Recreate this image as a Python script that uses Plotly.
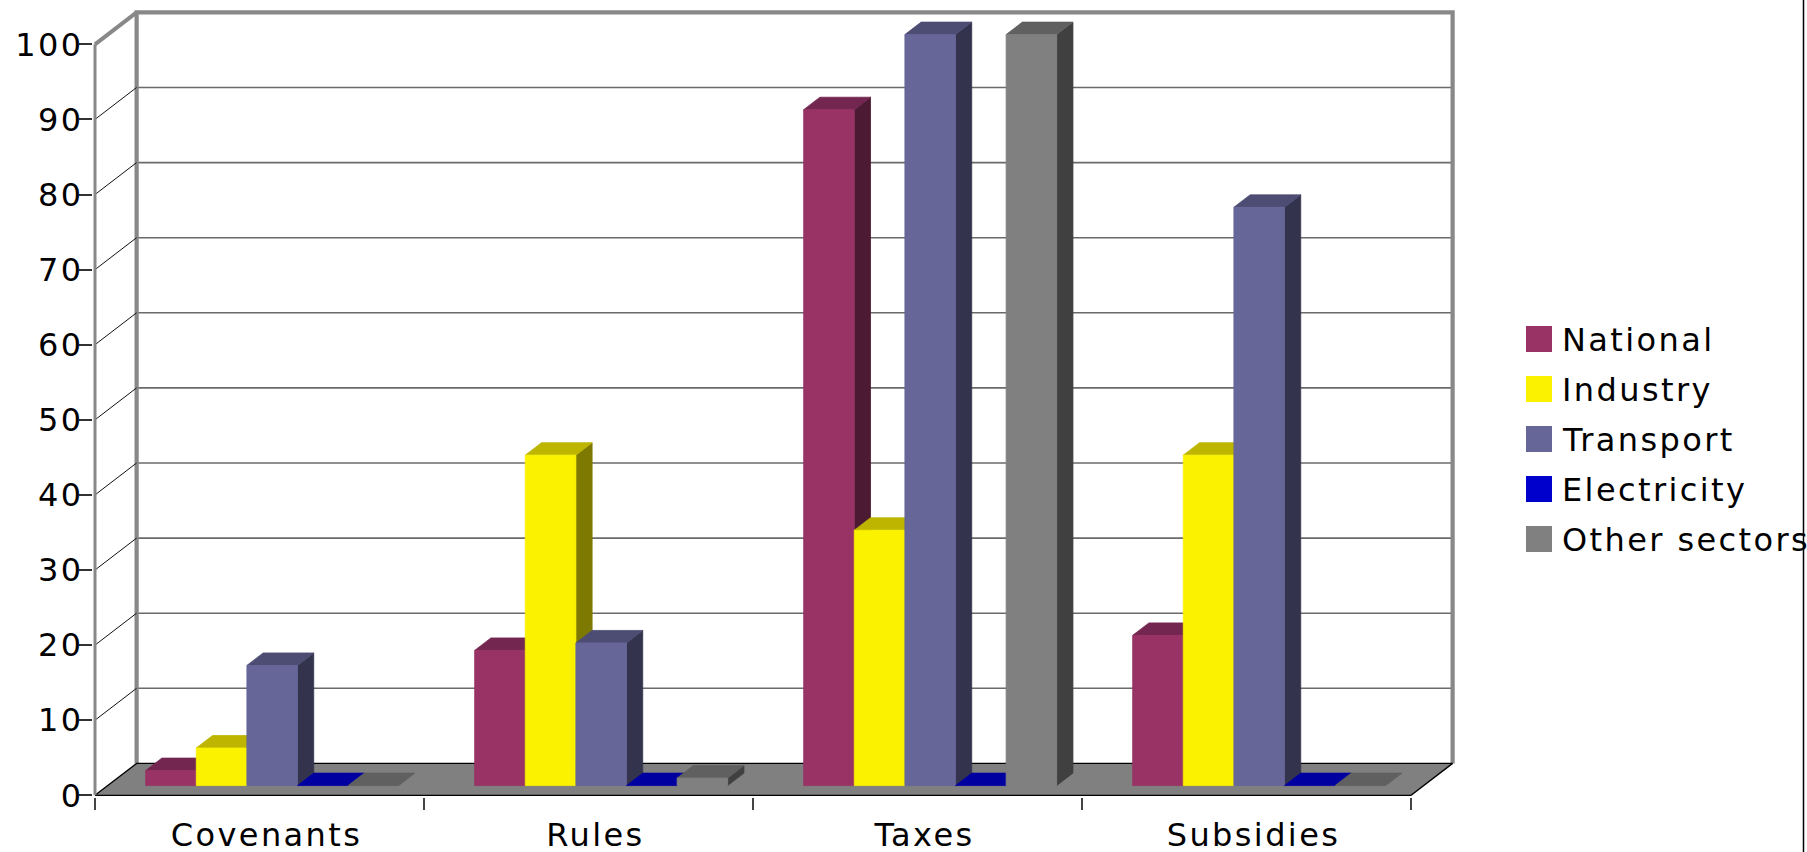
import plotly.graph_objects as go

# ---- data -------------------------------------------------------------
categories = ["Covenants", "Rules", "Taxes", "Subsidies"]
series_names = ["National", "Industry", "Transport", "Electricity", "Other sectors"]

national = [2, 18, 90, 20]
industry = [5, 44, 34, 44]
transport = [16, 19, 100, 77]
electricity = [0, 0, 0, 0]
other_sectors = [0, 1, 100, 0]

y_ticks = [0, 10, 20, 30, 40, 50, 60, 70, 80, 90, 100]

# ---- styling ----------------------------------------------------------
front_colors = ["#993366", "#FBF200", "#666699", "#0000CC", "#808080"]
top_colors = ["#732650", "#BDB500", "#4D4D73", "#0000A0", "#606060"]
side_colors = ["#4D1A33", "#7E7900", "#33334D", "#000066", "#404040"]
FONT = "DejaVu Sans, Verdana, sans-serif"

values = [national, industry, transport, electricity, other_sectors]

# pseudo-3D geometry (data units): x in categories, y in value units
DX, DY = 0.1265, 4.25          # depth of floor / walls
N_SER = len(series_names)
BAR_W = 1.0 / (N_SER + 1.5)    # 150 % gap width
GAP = 0.75 * BAR_W
F0, F1 = 0.305, 0.695          # front / back depth fraction of the bars
NCAT = len(categories)
YMAX = y_ticks[-1]

# pixel scale used to size the figure
PX_X, PX_Y = 329.0, 7.51
ORIGIN_X, ORIGIN_Y = 95.0, 795.3
FIG_W, FIG_H = 1807, 852
M_L, M_T = 93, 3
PLOT_W, PLOT_H = 1430, 794
M_R = FIG_W - M_L - PLOT_W
M_B = FIG_H - M_T - PLOT_H
XA = (M_L - ORIGIN_X) / PX_X
XB = XA + PLOT_W / PX_X
YA = -((M_T + PLOT_H) - ORIGIN_Y) / PX_Y
YB = YA + PLOT_H / PX_Y


def px_to_paper(px, py):
    return (px - M_L) / PLOT_W, ((M_T + PLOT_H) - py) / PLOT_H


fig = go.Figure()


def poly(xs, ys, fill, line_color=None, line_width=0.8):
    fig.add_trace(go.Scatter(
        x=xs + [xs[0]], y=ys + [ys[0]], mode="lines", fill="toself",
        fillcolor=fill, line=dict(color=line_color or fill, width=line_width),
        hoverinfo="skip", showlegend=False))


def lines(xs, ys, color, width):
    fig.add_trace(go.Scatter(
        x=xs, y=ys, mode="lines", line=dict(color=color, width=width),
        hoverinfo="skip", showlegend=False))


grid_vals = [v for v in y_ticks if 0 < v < YMAX]

# back wall gridlines
gx, gy = [], []
for v in grid_vals:
    gx += [DX, NCAT + DX, None]
    gy += [v + DY, v + DY, None]
lines(gx, gy, "#6A6A6A", 1.6)

# back wall frame
lines([DX, DX, NCAT + DX, NCAT + DX], [DY, YMAX + DY, YMAX + DY, DY], "#888888", 4.2)

# floor
poly([0, NCAT, NCAT + DX, DX], [0, 0, DY, DY], "#808080", "#000000", 1.3)

# side wall gridlines
sx, sy = [], []
for v in grid_vals:
    sx += [0, DX, None]
    sy += [v, v + DY, None]
lines(sx, sy, "#111111", 1.0)

# side wall top edge and front axis edge
lines([0, DX], [YMAX, YMAX + DY], "#888888", 4.0)
lines([0, 0], [0, YMAX], "#888888", 3.0)

# bars
ddx, ddy = (F1 - F0) * DX, (F1 - F0) * DY
for c in range(NCAT):
    for i in range(N_SER):
        v = values[i][c]
        xl = c + GAP + i * BAR_W + F0 * DX
        xr = xl + BAR_W
        yb = F0 * DY
        yt = yb + v
        if v > 0:
            poly([xr, xr, xr + ddx, xr + ddx], [yb, yt, yt + ddy, yb + ddy], side_colors[i])
        poly([xl, xr, xr + ddx, xl + ddx], [yt, yt, yt + ddy, yt + ddy], top_colors[i])
        if v > 0:
            poly([xl, xr, xr, xl], [yb, yb, yt, yt], front_colors[i])

# legend (swatches + labels)
shapes = []
annotations = []
LEG_X, LEG_Y0, LEG_STEP, SW = 1526, 339, 50, 26
for i, name in enumerate(series_names):
    cy = LEG_Y0 + i * LEG_STEP
    x0p, y0p = px_to_paper(LEG_X, cy + SW / 2)
    x1p, y1p = px_to_paper(LEG_X + SW, cy - SW / 2)
    shapes.append(dict(type="rect", xref="paper", yref="paper", x0=x0p, x1=x1p,
                       y0=y0p, y1=y1p, fillcolor=front_colors[i], line=dict(width=0)))
    tx, ty = px_to_paper(LEG_X + SW + 8, cy + 1)
    annotations.append(dict(xref="paper", yref="paper", x=tx, y=ty, text=name,
                            showarrow=False, xanchor="left", yanchor="middle",
                            align="left",
                            font=dict(family=FONT, size=32, color="#000000")))

# outer right border line
bx, by_top = px_to_paper(1803.5, 0)
_, by_bot = px_to_paper(1803.5, FIG_H)
shapes.append(dict(type="line", xref="paper", yref="paper", x0=bx, x1=bx,
                   y0=by_bot, y1=by_top, line=dict(color="#000000", width=1.5)))

fig.update_layout(
    width=FIG_W, height=FIG_H, autosize=False,
    margin=dict(l=M_L, r=M_R, t=M_T, b=M_B, pad=0),
    paper_bgcolor="white", plot_bgcolor="rgba(0,0,0,0)",
    showlegend=False,
    shapes=shapes, annotations=annotations,
    xaxis=dict(range=[XA, XB], showgrid=False, zeroline=False, showline=False,
               automargin=False,
               tickvals=[c + 0.5 for c in range(NCAT)], ticktext=categories,
               ticks="", tickfont=dict(family=FONT, size=32, color="#000000"),
               ticklabelstandoff=16, ticklabelshift=7,
               minor=dict(tickvals=list(range(NCAT + 1)), ticks="outside",
                          ticklen=12, tickwidth=1.5, tickcolor="#444444"),
               fixedrange=True),
    yaxis=dict(range=[YA, YB], showgrid=False, zeroline=False, showline=False,
               automargin=False,
               tickvals=y_ticks, ticks="outside", ticklen=13, tickwidth=1.5,
               tickcolor="#333333", ticklabelstandoff=-11,
               tickfont=dict(family=FONT, size=32, color="#000000"),
               fixedrange=True),
)

# widen the letter spacing of the labels; left-aligned labels keep their left edge
spacing_js = """
var gd = document.getElementById('{plot_id}');
function spreadText() {
  gd.querySelectorAll('.xtick text, .ytick text, .annotation-text').forEach(function (t) {
    if (t.dataset.spread) return;
    var w1 = t.getBBox().width;
    t.style.letterSpacing = '2.4px';
    var w2 = t.getBBox().width;
    if (t.classList.contains('annotation-text') && t.getAttribute('text-anchor') === 'middle') {
      var dx = (w2 - w1) / 2;
      [t].concat(Array.prototype.slice.call(t.querySelectorAll('tspan'))).forEach(function (el) {
        if (el.hasAttribute('x')) el.setAttribute('x', parseFloat(el.getAttribute('x')) + dx);
      });
    }
    t.dataset.spread = '1';
  });
}
spreadText();
gd.on('plotly_afterplot', spreadText);
"""

fig.write_html("out.html", config={"displayModeBar": False}, post_script=spacing_js)
